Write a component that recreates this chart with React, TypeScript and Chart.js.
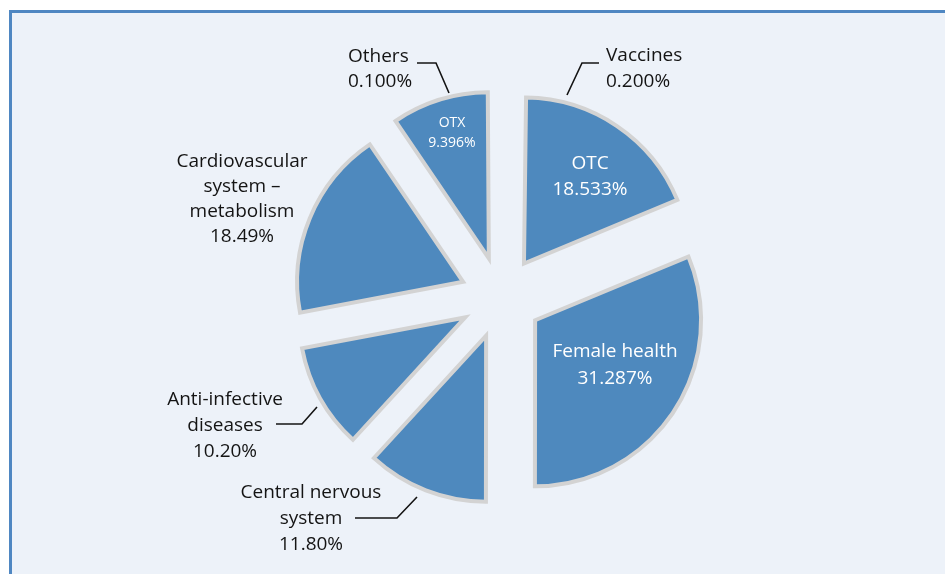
import React, { useEffect, useRef } from 'react';
import { Chart, registerables } from 'chart.js';

Chart.register(...registerables);

// ---- data ----
const categories = [
  'Vaccines',
  'OTC',
  'Female health',
  'Central nervous system',
  'Anti-infective diseases',
  'Cardiovascular system – metabolism',
  'OTX',
  'Others',
];
const shares = [0.2, 18.533, 31.287, 11.8, 10.2, 18.49, 9.396, 0.1];
const shareLabels = ['0.200%', '18.533%', '31.287%', '11.80%', '10.20%', '18.49%', '9.396%', '0.100%'];
const nameLines = [
  ['Vaccines'],
  ['OTC'],
  ['Female health'],
  ['Central nervous', 'system'],
  ['Anti-infective', 'diseases'],
  ['Cardiovascular', 'system –', 'metabolism'],
  ['OTX'],
  ['Others'],
];
// slices too thin to be drawn as wedges (shown only by their callout)
const thinSlices = ['Vaccines', 'Others'];

// ---- style ----
const FONT = '"Open Sans", "Noto Sans", sans-serif';
const SLICE_FILL = '#4e89be';
const SLICE_BORDER = '#d3d3d3';
const TEXT_DARK = '#141414';
const EXPLODE = 41;
const RADIUS = 166;

const labelLayout = [
  { x: 606, y: 61, align: 'left', color: TEXT_DARK, size: 19, step: 26 },
  { x: 590, y: 169, align: 'center', color: '#ffffff', size: 19, step: 26 },
  { x: 615, y: 357, align: 'center', color: '#ffffff', size: 19, step: 26.5 },
  { x: 311, y: 498, align: 'center', color: TEXT_DARK, size: 19, step: 26 },
  { x: 225, y: 405, align: 'center', color: TEXT_DARK, size: 19, step: 26 },
  { x: 242, y: 167, align: 'center', color: TEXT_DARK, size: 19, step: 25 },
  { x: 452, y: 127, align: 'center', color: '#ffffff', size: 14, step: 19.5 },
  { x: 348, y: 62, align: 'left', color: TEXT_DARK, size: 19, step: 25 },
];

const leaders = [
  [[599, 63], [582, 63], [567, 95]],
  [[417, 63], [436, 63], [449, 93]],
  [[276, 424], [302, 424], [317, 407]],
  [[355, 518], [397, 518], [417, 497]],
];

export default function App() {
  const ref = useRef<HTMLCanvasElement>(null);

  useEffect(() => {
    const canvas = ref.current!;

    const explodedPie = {
      id: 'explodedPie',
      beforeDatasetDraw(chart: any) {
        const ctx = chart.ctx;
        const meta = chart.getDatasetMeta(0);
        meta.data.forEach((arc: any, i: number) => {
          if (thinSlices.includes(categories[i])) return;
          const o = arc.options;
          const mid = (arc.startAngle + arc.endAngle) / 2;
          const off = o.offset || 0;
          ctx.save();
          ctx.translate(arc.x + Math.cos(mid) * off, arc.y + Math.sin(mid) * off);
          ctx.beginPath();
          ctx.moveTo(0, 0);
          ctx.arc(0, 0, arc.outerRadius, arc.startAngle, arc.endAngle);
          ctx.closePath();
          ctx.fillStyle = o.backgroundColor;
          ctx.fill();
          ctx.lineWidth = o.borderWidth;
          ctx.strokeStyle = o.borderColor;
          ctx.lineJoin = 'miter';
          ctx.miterLimit = 10;
          ctx.stroke();
          ctx.restore();
        });
        return false;
      },
    };

    const annotations = {
      id: 'annotations',
      afterDraw(chart: any) {
        const ctx = chart.ctx;
        ctx.save();
        ctx.strokeStyle = TEXT_DARK;
        ctx.lineWidth = 1.6;
        ctx.lineJoin = 'miter';
        leaders.forEach((pts) => {
          ctx.beginPath();
          pts.forEach((p, k) => (k === 0 ? ctx.moveTo(p[0], p[1]) : ctx.lineTo(p[0], p[1])));
          ctx.stroke();
        });
        categories.forEach((_, i) => {
          const L = labelLayout[i];
          const lines = nameLines[i].concat([shareLabels[i]]);
          ctx.font = `${L.size}px ${FONT}`;
          ctx.fillStyle = L.color;
          ctx.textAlign = L.align;
          ctx.textBaseline = 'alphabetic';
          lines.forEach((t, k) => ctx.fillText(t, L.x, L.y + k * L.step));
        });
        ctx.restore();
      },
    };

    const chart = new Chart(canvas, {
      type: 'pie',
      data: {
        labels: categories,
        datasets: [
          {
            data: shares,
            backgroundColor: categories.map((c) => (thinSlices.includes(c) ? 'rgba(0,0,0,0)' : SLICE_FILL)),
            borderColor: SLICE_BORDER,
            borderWidth: 4,
            offset: EXPLODE,
            hoverOffset: 0,
            radius: RADIUS,
          } as any,
        ],
      },
      options: {
        animation: false,
        responsive: false,
        events: [],
        radius: RADIUS,
        layout: { padding: { left: 57, top: 21, right: 0, bottom: 0 } },
        plugins: { legend: { display: false }, tooltip: { enabled: false } },
      } as any,
      plugins: [explodedPie, annotations],
    });
    return () => chart.destroy();
  }, []);

  return (
    <div style={{ position: 'fixed', left: 0, top: 0, width: 945, height: 574, background: '#ffffff', overflow: 'hidden' }}>
      <div
        style={{
          position: 'absolute',
          left: 9,
          top: 10,
          right: 0,
          bottom: 0,
          background: '#edf2f9',
          borderTop: '3px solid #4f87c2',
          borderLeft: '3px solid #4f87c2',
        }}
      />
      <canvas ref={ref} width={945} height={574} style={{ position: 'absolute', left: 0, top: 0, width: 945, height: 574 }} />
    </div>
  );
}
